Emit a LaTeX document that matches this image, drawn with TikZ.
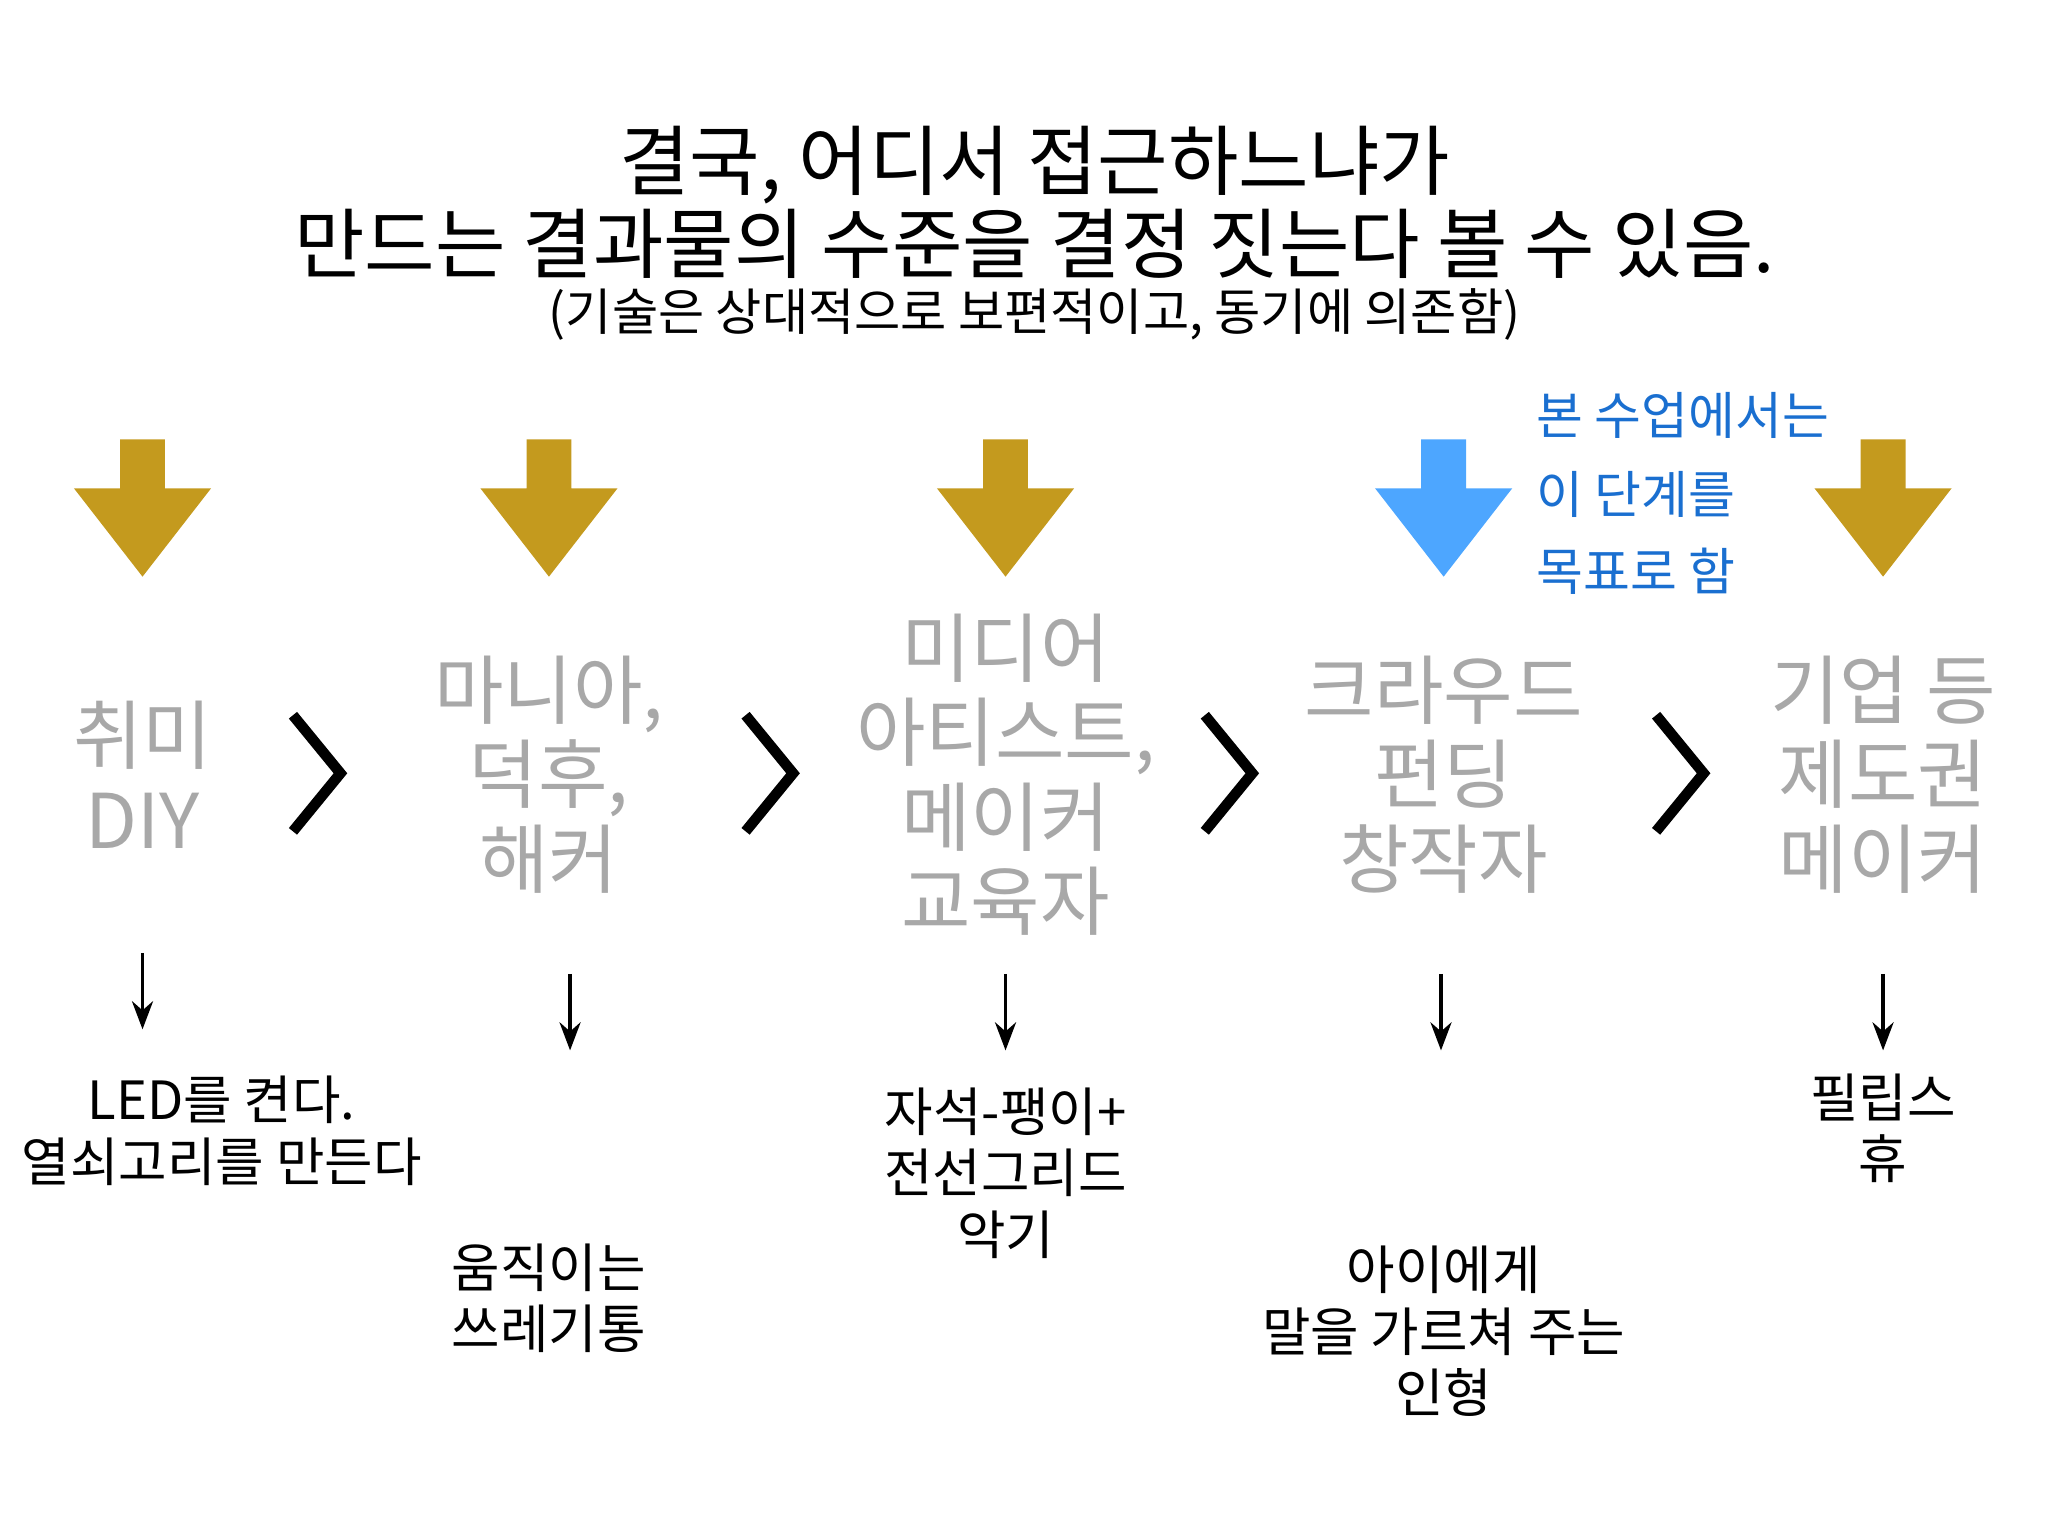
\documentclass[tikz,border=0pt]{standalone}
\usepackage{fontspec}
\setmainfont{Noto Sans CJK KR}
\usetikzlibrary{arrows.meta}
\definecolor{gold}{HTML}{C49A1E}
\definecolor{skyb}{HTML}{4DA6FF}
\definecolor{txtb}{HTML}{1A6FD0}
\definecolor{gr}{HTML}{A8A8A8}
\begin{document}
\begin{tikzpicture}[x=0.013196cm,y=-0.013196cm,
  title/.style={font=\fontsize{21.8}{26}\selectfont},
  sub/.style={font=\fontsize{14.3}{16}\selectfont},
  big/.style={text=gr,align=center,font=\fontsize{21.5}{24}\selectfont},
  lab/.style={align=center,font=\fontsize{15}{17.5}\selectfont},
  blu/.style={text=txtb,anchor=west,font=\fontsize{14.5}{16}\selectfont},
  chev/.style={line width=3pt},
  sarr/.style={line width=1pt,-{Stealth[length=8pt,width=6pt]}}]
\useasboundingbox (0,0) rectangle (1552,1164);
\def\barrow#1#2{\fill[#2] (#1-17,333) -- (#1+17,333) -- (#1+17,370) -- (#1+52,370) -- (#1,437) -- (#1-52,370) -- (#1-17,370) -- cycle;}
\node[title] (t1) at (784,125) {결국, 어디서 접근하느냐가};
\node[title] (t2) at (784,185) {만드는 결과물의 수준을 결정 짓는다 볼 수 있음.};
\node[sub] (t3) at (784,238) {(기술은 상대적으로 보편적이고, 동기에 의존함)};
\barrow{108}{gold}
\barrow{416}{gold}
\barrow{762}{gold}
\barrow{1094}{skyb}
\barrow{1427}{gold}
\node[blu] (b1) at (1155,315) {본 수업에서는};
\node[blu] (b2) at (1155,375) {이 단계를};
\node[blu] (b3) at (1155,433) {목표로 함};
\node[big] (g1) at (108,587) {취미\\DIY};
\node[big] (g2) at (416,587) {마니아,\\덕후,\\해커};
\node[big] (g3) at (762,587) {미디어\\아티스트,\\메이커\\교육자};
\node[big] (g4) at (1094,587) {크라우드\\펀딩\\창작자};
\node[big] (g5) at (1427,587) {기업 등\\제도권\\메이커};
\foreach \x in {222,565,913,1255}{\draw[chev] (\x,542) -- (\x+36,586) -- (\x,630);}
\coordinate (a1s) at (108,722); \coordinate (a1e) at (108,780);
\draw[sarr] (a1s) -- (a1e);
\foreach \x/\n in {432/2,762/3,1092/4,1427/5}{
  \coordinate (a\n s) at (\x,738); \coordinate (a\n e) at (\x,796);
  \draw[sarr] (a\n s) -- (a\n e);}
\node[lab] (l1) at (168,857) {LED를 켠다.\\열쇠고리를 만든다};
\node[lab] (l2) at (416,984) {움직이는\\쓰레기통};
\node[lab] (l3) at (762,889) {자석-팽이+\\전선그리드\\악기};
\node[lab] (l4) at (1094,1009) {아이에게\\말을 가르쳐 주는\\인형};
\node[lab] (l5) at (1427,855) {필립스\\휴};
\end{tikzpicture}
\end{document}
